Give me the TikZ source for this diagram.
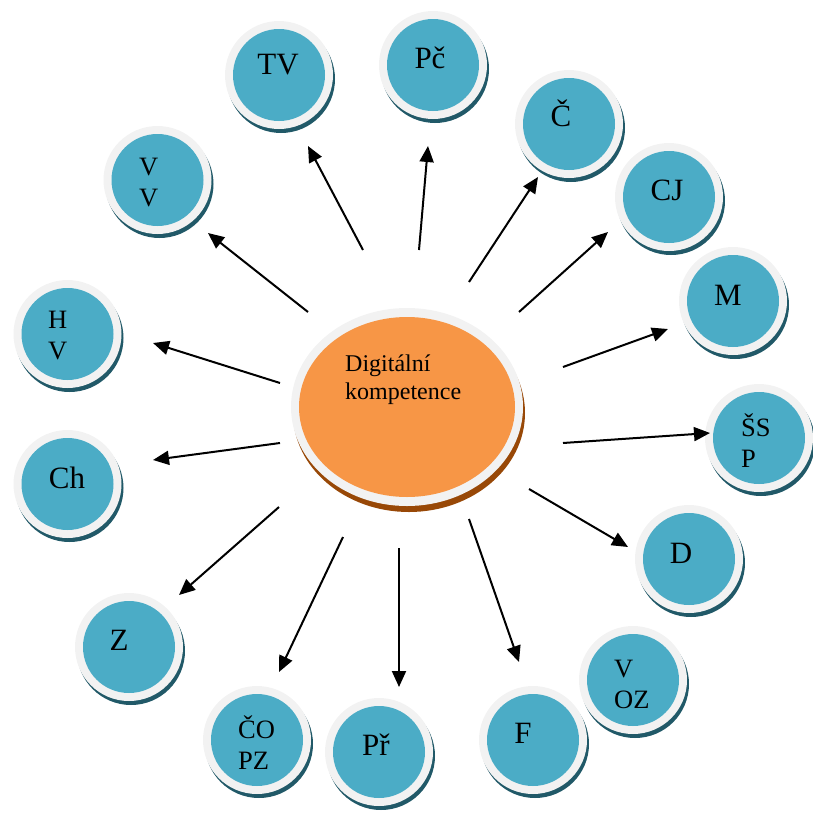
\documentclass[tikz,border=0pt]{standalone}
\usepackage{fontspec}
\setmainfont{Liberation Serif}
\usetikzlibrary{arrows.meta,shapes.geometric,shadows}
\definecolor{bubfill}{HTML}{4BACC6}
\definecolor{rimcol}{HTML}{F2F2F2}
\definecolor{bubsh}{HTML}{215968}
\definecolor{ctrfill}{HTML}{F79646}
\definecolor{ctrsh}{HTML}{984807}
\begin{document}
\begin{tikzpicture}[x=1pt,y=-1pt,
  bubble/.style={circle, minimum size=108pt, inner sep=0pt, fill=rimcol,
    drop shadow={shadow xshift=2pt, shadow yshift=-4pt, fill=bubsh, opacity=1},
    path picture={\fill[bubfill] (path picture bounding box.center) circle[radius=46pt];}},
  centre/.style={ellipse, minimum width=232pt, minimum height=198pt, inner sep=0pt, fill=rimcol,
    drop shadow={shadow xshift=2pt, shadow yshift=-6pt, fill=ctrsh, opacity=1},
    path picture={\fill[ctrfill] (path picture bounding box.center) ellipse[x radius=108pt, y radius=90pt];}},
  one/.style={inner sep=0pt, font=\fontsize{31}{31}\selectfont},
  two/.style={inner sep=0pt, anchor=west, align=left, font=\fontsize{26.5}{31}\selectfont},
  arr/.style={line width=2pt, -{Triangle[length=16pt,width=14pt]}}]
\useasboundingbox (0,0) rectangle (813,814);

% central ellipse
\node[centre] (DK) at (407,407) {};
\node[inner sep=0pt, anchor=west, align=left, font=\fontsize{24}{28}\selectfont] (DKt) at (345,380) {Digitální\\kompetence};

% bubbles
\node[bubble] (TV) at (279,75) {};
\node[bubble] (Pc) at (433,65) {};
\node[bubble] (C) at (569,124) {};
\node[bubble] (CJ) at (669,197) {};
\node[bubble] (M) at (733,301) {};
\node[bubble] (SSP) at (759,438) {};
\node[bubble] (D) at (689,559) {};
\node[bubble] (VOZ) at (633,680) {};
\node[bubble] (F) at (533,740) {};
\node[bubble] (Pr) at (379,752) {};
\node[bubble] (COPZ) at (257,740) {};
\node[bubble] (Z) at (129,647) {};
\node[bubble] (Ch) at (67.5,484) {};
\node[bubble] (HV) at (67.5,334) {};
\node[bubble] (VV) at (157.5,180) {};

% labels
\node[one] (TVt) at (278,65) {TV};
\node[one] (Pct) at (430,58) {Pč};
\node[one] (Ct) at (561,113) {Č};
\node[one] (CJt) at (667,190) {CJ};
\node[one] (Mt) at (728,295) {M};
\node[two] (SSPt) at (741,441) {ŠS\\P};
\node[one] (Dt) at (681,553) {D};
\node[two] (VOZt) at (614,684) {V\\OZ};
\node[one] (Ft) at (523,733) {F};
\node[one] (Prt) at (376,745) {Př};
\node[two] (COPZt) at (238,743) {ČO\\PZ};
\node[one] (Zt) at (119,640) {Z};
\node[one] (Cht) at (67,478) {Ch};
\node[two] (HVt) at (48,336) {H\\V};
\node[two] (VVt) at (139,183) {V\\V};

% arrow end points
\coordinate (sTV) at (363,250);   \coordinate (eTV) at (308,146);
\coordinate (sPc) at (419,250);   \coordinate (ePc) at (428,146);
\coordinate (sC) at (469,282);    \coordinate (eC) at (538,177);
\coordinate (sCJ) at (519,312);   \coordinate (eCJ) at (608,232);
\coordinate (sM) at (563,367);    \coordinate (eM) at (668,329);
\coordinate (sSSP) at (563,443);  \coordinate (eSSP) at (710,433);
\coordinate (sD) at (529,489);    \coordinate (eD) at (628,547);
\coordinate (sF) at (469,519);    \coordinate (eF) at (519,662);
\coordinate (sPr) at (399,548);   \coordinate (ePr) at (399,687);
\coordinate (sCOPZ) at (343,537); \coordinate (eCOPZ) at (279,672);
\coordinate (sZ) at (279,507);    \coordinate (eZ) at (179,595);
\coordinate (sCh) at (280,443);   \coordinate (eCh) at (153,460);
\coordinate (sHV) at (280,383);   \coordinate (eHV) at (153,343);
\coordinate (sVV) at (308,312);   \coordinate (eVV) at (208,233);

\foreach \n in {TV,Pc,C,CJ,M,SSP,D,F,Pr,COPZ,Z,Ch,HV,VV}
  \draw[arr] (s\n) -- (e\n);
\end{tikzpicture}
\end{document}
